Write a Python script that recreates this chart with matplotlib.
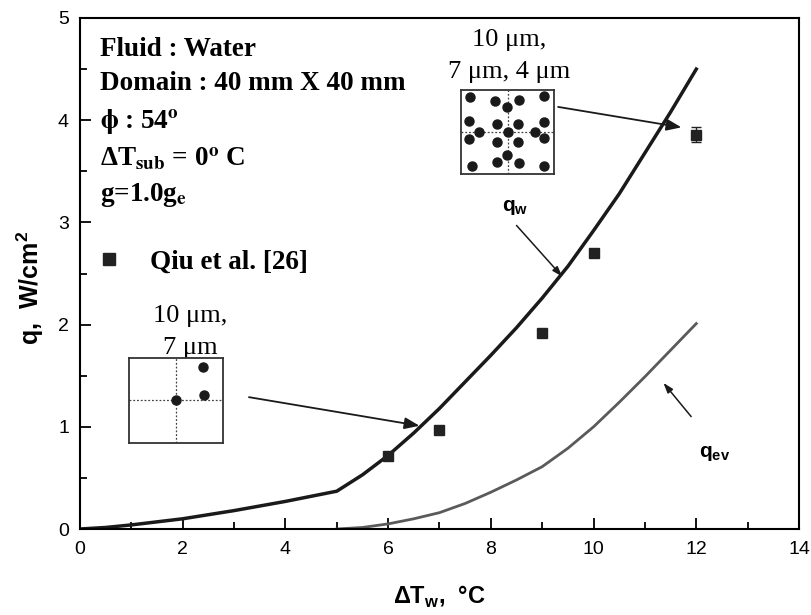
import numpy as np
import matplotlib
matplotlib.use("Agg")
from matplotlib import pyplot as plt

# mathtext: custom = sans (axis labels), stix = serif (notes)
plt.rcParams['mathtext.fontset'] = 'custom'
plt.rcParams['mathtext.rm'] = 'Liberation Sans:bold'
plt.rcParams['mathtext.bf'] = 'Liberation Sans:bold'
plt.rcParams['font.family'] = ['Liberation Sans', 'DejaVu Sans']

# model curves
qw_x = [0, 0.5, 1, 1.5, 2, 2.5, 3, 3.5, 4, 4.5, 5, 5.5, 6, 6.5, 7, 7.5, 8, 8.5, 9, 9.5,
        10, 10.5, 11, 11.5, 12]
qw_y = [0, 0.015, 0.04, 0.07, 0.10, 0.14, 0.18, 0.225, 0.27, 0.32, 0.37, 0.53, 0.72,
        0.94, 1.18, 1.44, 1.70, 1.97, 2.26, 2.57, 2.92, 3.28, 3.68, 4.08, 4.50]

qev_x = [5, 5.5, 6, 6.5, 7, 7.5, 8, 8.5, 9, 9.5, 10, 10.5, 11, 11.5, 12]
qev_y = [0, 0.015, 0.05, 0.10, 0.16, 0.25, 0.36, 0.48, 0.61, 0.79, 1.00, 1.24, 1.49,
         1.75, 2.01]

# experiment (Qiu et al.)
exp_x = [6, 7, 9, 10, 12]
exp_y = [0.71, 0.97, 1.92, 2.70, 3.86]
exp_err = [0, 0, 0, 0, 0.07]

# nucleation site layouts (box fractions)
sites1_u = [0.505, 0.794, 0.80]
sites1_v = [0.51, 0.894, 0.573]
sites2_u = [0.10, 0.367, 0.626, 0.893, 0.491, 0.093, 0.384, 0.616, 0.89, 0.199, 0.509,
            0.794, 0.093, 0.384, 0.616, 0.89, 0.491, 0.117, 0.384, 0.626, 0.893]
sites2_v = [0.913, 0.874, 0.881, 0.933, 0.794, 0.636, 0.597, 0.597, 0.617, 0.506, 0.498,
            0.506, 0.415, 0.379, 0.379, 0.435, 0.229, 0.103, 0.142, 0.138, 0.103]

fig = plt.figure(figsize=(8.12, 6.15), dpi=100)
ax = fig.add_axes([80/812, 1 - 529/615, 719/812, 511/615])

ax.plot(qw_x, qw_y, color='#1a1a1a', lw=2.5, solid_joinstyle='round')
ax.plot(qev_x, qev_y, color='#5a5a5a', lw=2.0, solid_joinstyle='round')
ax.errorbar(exp_x, exp_y, yerr=exp_err, fmt='s', color='#222222', ms=7,
            capsize=3.5, elinewidth=1, capthick=1)

ax.set_xlim(0, 14)
ax.set_ylim(0, 5)
ax.set_xticks([0, 2, 4, 6, 8, 10, 12, 14])
ax.set_xticks(np.arange(0, 14, 1), minor=True)
ax.set_yticks([0, 1, 2, 3, 4, 5])
ax.set_yticks(np.arange(0, 5, 0.5), minor=True)
ax.tick_params(which='both', direction='in', width=1.3, labelsize=14)
ax.tick_params(which='major', length=8)
ax.tick_params(which='minor', length=5)
ax.tick_params(axis='x', which='major', pad=9)
ax.tick_params(axis='y', which='major', pad=8)
for s in ax.spines.values():
    s.set_linewidth(1.5)

ax.set_xlabel(r'ΔT$_{\mathbf{w}}$,  °C', fontsize=17, fontweight='bold', labelpad=18)
fig.text(30/812, 1 - 288/615, r'q,  W/cm$^{\mathbf{2}}$', fontsize=18, fontweight='bold',
         rotation=90, ha='center', va='center')

serif = dict(family=['Liberation Serif', 'DejaVu Serif'], fontweight='bold',
             fontsize=19.5, va='baseline', math_fontfamily='stix')
ax.text(0.38, 4.63, 'Fluid : Water', **serif)
ax.text(0.38, 4.30, 'Domain : 40 mm X 40 mm', **serif)
ax.text(0.38, 3.92, r'$\mathbf{\phi}$ : 54$^{\mathbf{o}}$', **serif)
ax.text(0.38, 3.55, r'ΔT$_{\mathbf{sub}}$ = 0$^{\mathbf{o}}$ C', **serif)
ax.text(0.38, 3.21, r'g=1.0g$_{\mathbf{e}}$', **serif)
ax.plot([0.56], [2.64], 's', color='#222222', ms=8)
ax.text(1.36, 2.55, 'Qiu et al. [26]', **serif)

plain = dict(family=['Liberation Serif', 'DejaVu Serif'], fontsize=19,
             va='baseline', ha='center')
ax.text(2.15, 2.03, '10 μm,', **plain)
ax.text(2.15, 1.71, '7 μm', **plain)
ax.text(8.36, 4.73, '10 μm,', **plain)
ax.text(8.36, 4.41, '7 μm, 4 μm', **plain)

ax.text(8.22, 3.11, r'q$_{\mathbf{w}}$', fontsize=15, fontweight='bold', va='baseline')
ax.text(12.05, 0.70, r'q$_{\mathbf{ev}}$', fontsize=15, fontweight='bold', va='baseline')

big_arrow = dict(arrowstyle='-|>,head_length=0.9,head_width=0.35', color='#1a1a1a',
                 lw=1.3, shrinkA=0, shrinkB=0)
small_arrow = dict(arrowstyle='-|>,head_length=0.6,head_width=0.2', color='#1a1a1a',
                   lw=1.1, shrinkA=0, shrinkB=0)
ax.annotate('', xy=(6.61, 1.01), xytext=(3.29, 1.29), arrowprops=big_arrow)
ax.annotate('', xy=(11.71, 3.93), xytext=(9.31, 4.13), arrowprops=big_arrow)
ax.annotate('', xy=(9.39, 2.47), xytext=(8.50, 2.97), arrowprops=small_arrow)
ax.annotate('', xy=(11.36, 1.43), xytext=(11.90, 1.10), arrowprops=small_arrow)


def site_box(rect, us, vs, cu, cv):
    b = fig.add_axes(rect)
    b.set_xlim(0, 1)
    b.set_ylim(0, 1)
    b.set_xticks([])
    b.set_yticks([])
    for s in b.spines.values():
        s.set_linewidth(1.3)
        s.set_color('#333333')
    b.axvline(cu, color='#444444', lw=0.9, ls=(0, (1.5, 1.5)))
    b.axhline(cv, color='#444444', lw=0.9, ls=(0, (1.5, 1.5)))
    b.plot(us, vs, 'o', color='#1a1a1a', ms=6.5, ls='none')


site_box([129/812, 1 - 443.3/615, 93.7/812, 85/615], sites1_u, sites1_v, 0.505, 0.51)
site_box([460.7/812, 1 - 174.3/615, 93.6/812, 84.3/615], sites2_u, sites2_v, 0.502, 0.498)

fig.savefig('out.png', dpi=100)
